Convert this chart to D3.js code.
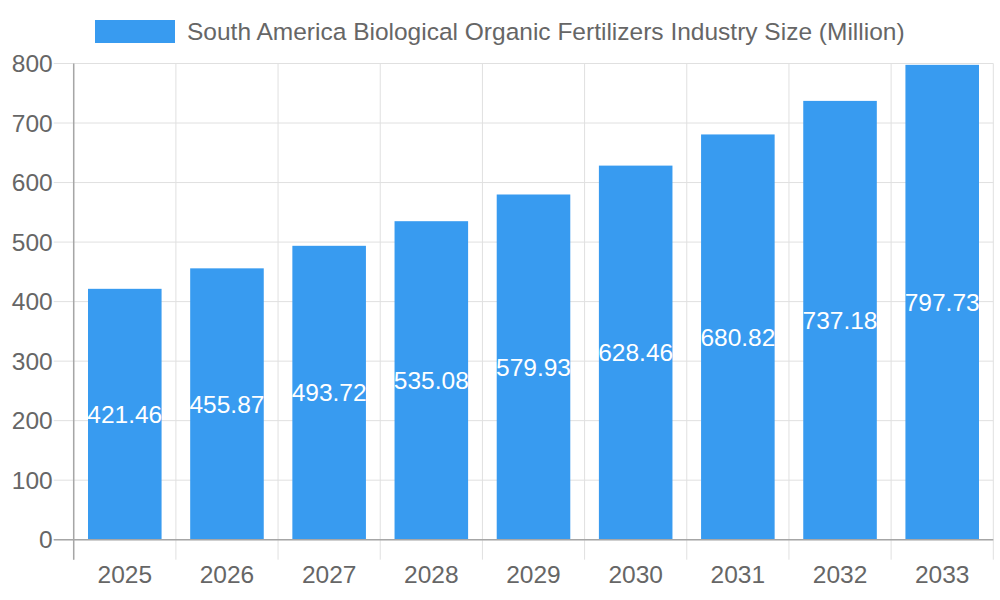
<!DOCTYPE html>
<html>
<head>
<meta charset="utf-8">
<script src="https://cdn.jsdelivr.net/npm/d3@7"></script>
<style>
  body { margin: 0; background: #fff; }
</style>
</head>
<body>
<svg id="chart" width="1000" height="600" font-family="'Liberation Sans', Arial, sans-serif"></svg>
<script>
const years = ["2025", "2026", "2027", "2028", "2029", "2030", "2031", "2032", "2033"];
const sizes = [421.46, 455.87, 493.72, 535.08, 579.93, 628.46, 680.82, 737.18, 797.73];
const yTicks = [0, 100, 200, 300, 400, 500, 600, 700, 800];
const seriesName = "South America Biological Organic Fertilizers Industry Size (Million)";

const svg = d3.select("#chart");
const plotLeft = 73.7, plotRight = 993.3, plotTop = 63.5, plotBottom = 539.7;
const barColor = "rgb(56,155,240)";
const fontSize = 24.5;

const x = d3.scaleBand().domain(years).range([plotLeft, plotRight]).paddingInner(0).paddingOuter(0);
const y = d3.scaleLinear().domain([0, 800]).range([plotBottom, plotTop]);

// horizontal grid
svg.append("g").selectAll("line").data(yTicks).enter().append("line")
  .attr("x1", plotLeft - 20).attr("x2", plotRight)
  .attr("y1", d => y(d)).attr("y2", d => y(d))
  .attr("stroke", "#e0e0e0").attr("stroke-width", 1);

// vertical grid
const vlines = years.map(d => x(d)).concat([plotRight]);
svg.append("g").selectAll("line").data(vlines).enter().append("line")
  .attr("x1", d => d).attr("x2", d => d)
  .attr("y1", plotTop).attr("y2", plotBottom + 20)
  .attr("stroke", "#e0e0e0").attr("stroke-width", 1);

// bars
const bw = x.bandwidth() * 0.72;
svg.append("g").selectAll("rect").data(sizes).enter().append("rect")
  .attr("x", (d, i) => x(years[i]) + (x.bandwidth() - bw) / 2)
  .attr("width", bw)
  .attr("y", d => y(d))
  .attr("height", d => plotBottom - y(d))
  .attr("fill", barColor);

// axis lines
svg.append("line").attr("x1", plotLeft).attr("x2", plotLeft).attr("y1", plotTop).attr("y2", plotBottom + 20)
  .attr("stroke", "#a6a6a6").attr("stroke-width", 1.5);
svg.append("line").attr("x1", plotLeft - 20).attr("x2", plotRight).attr("y1", plotBottom).attr("y2", plotBottom)
  .attr("stroke", "#a6a6a6").attr("stroke-width", 1.5);

// y tick labels
svg.append("g").selectAll("text").data(yTicks).enter().append("text")
  .attr("x", plotLeft - 21).attr("y", d => y(d)).attr("dy", "0.35em")
  .attr("text-anchor", "end").attr("font-size", fontSize).attr("fill", "#666")
  .text(d => d);

// x tick labels
svg.append("g").selectAll("text").data(years).enter().append("text")
  .attr("x", d => x(d) + x.bandwidth() / 2).attr("y", 574).attr("dy", "0.35em")
  .attr("text-anchor", "middle").attr("font-size", fontSize).attr("fill", "#666")
  .text(d => d);

// value labels
svg.append("g").selectAll("text").data(sizes).enter().append("text")
  .attr("x", (d, i) => x(years[i]) + x.bandwidth() / 2)
  .attr("y", d => (y(d) + plotBottom) / 2).attr("dy", "0.35em")
  .attr("text-anchor", "middle").attr("font-size", fontSize).attr("fill", "#fff")
  .text(d => d.toFixed(2));

// legend
const legend = svg.append("g");
legend.append("rect").attr("x", 95).attr("y", 20).attr("width", 80).attr("height", 23)
  .attr("fill", barColor);
legend.append("text").attr("x", 187).attr("y", 31.5).attr("dy", "0.35em")
  .attr("font-size", fontSize).attr("fill", "#666").text(seriesName);
</script>
</body>
</html>
